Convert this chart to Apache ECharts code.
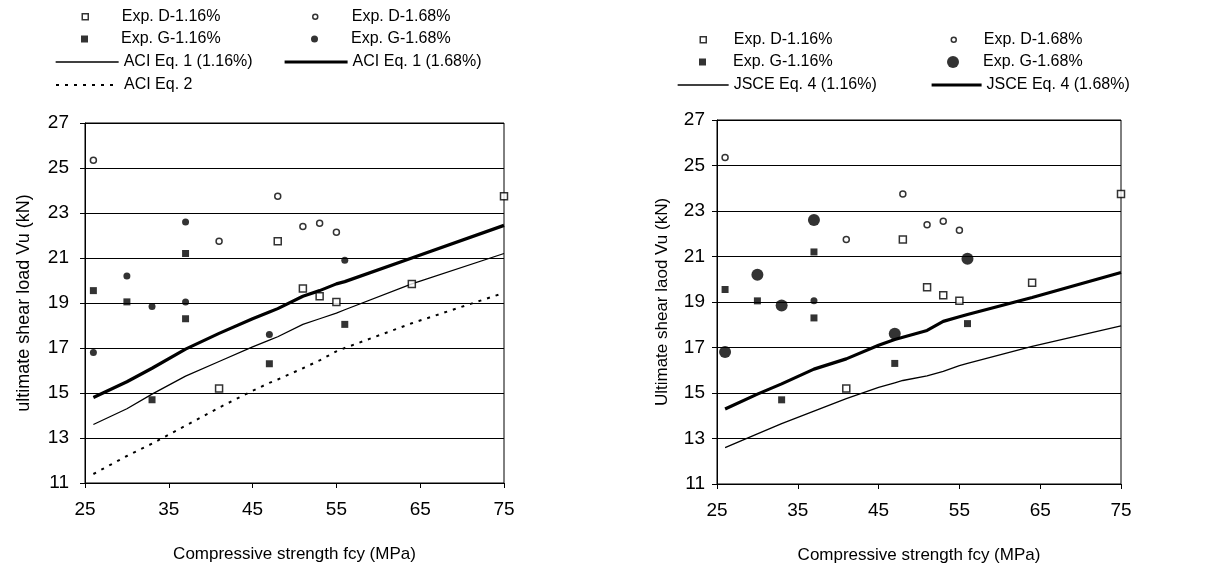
<!DOCTYPE html>
<html>
<head>
<meta charset="utf-8">
<script src="https://cdn.jsdelivr.net/npm/echarts@6/dist/echarts.min.js"></script>
<style>
  html, body { margin: 0; padding: 0; background: #fff; }
  #chart { width: 1228px; height: 571px; }
</style>
</head>
<body>
<div id="chart"></div>
<script>
// experimental points, fcy (MPa) / Vu (kN)
const expD116X = [41, 48, 51, 53, 55, 64, 75]
const expD116Y = [15.2, 21.75, 19.65, 19.3, 19.05, 19.85, 23.75]
const expD168X = [26, 41, 48, 51, 53, 55]
const expD168Y = [25.35, 21.75, 23.75, 22.4, 22.55, 22.15]
const expG116X = [26, 30, 33, 37, 37, 47, 56]
const expG116Y = [19.55, 19.05, 14.7, 21.2, 18.3, 16.3, 18.05]
const expG168X = [26, 30, 33, 37, 37, 47, 56]
const expG168Y = [16.8, 20.2, 18.85, 22.6, 19.05, 17.6, 20.9]

// predicted curves
const fcy = [26, 30, 33, 37, 41, 45, 47, 48, 51, 53, 55, 56, 64, 75]
const aci1_116 = [13.6, 14.3, 14.95, 15.75, 16.4, 17.05, 17.35, 17.5, 18.05, 18.3, 18.55, 18.7, 19.85, 21.2]
const aci1_168 = [14.8, 15.5, 16.1, 16.95, 17.65, 18.3, 18.6, 18.75, 19.3, 19.55, 19.85, 19.95, 21.0, 22.45]
const aci2 = [11.4, 12.2, 12.75, 13.55, 14.35, 15.1, 15.45, 15.6, 16.1, 16.45, 16.85, 17.0, 18.1, 19.45]
const jsce4_116 = [12.6, 13.2, 13.65, 14.2, 14.75, 15.25, 15.45, 15.55, 15.75, 15.95, 16.2, 16.3, 17.05, 17.95]
const jsce4_168 = [14.3, 14.95, 15.4, 16.05, 16.5, 17.1, 17.35, 17.45, 17.75, 18.15, 18.35, 18.45, 19.2, 20.3]

const xTicks = [25, 35, 45, 55, 65, 75]
const yTicks = [11, 13, 15, 17, 19, 21, 23, 25, 27]

const FONT = '"Liberation Sans", Arial, sans-serif'
const zip = (xs, ys) => xs.map((x, i) => [x, ys[i]])

const chart = echarts.init(document.getElementById('chart'))

const xAxisOf = (gridIndex) => ({
    type: 'value',
    gridIndex: gridIndex,
    min: xTicks[0],
    max: xTicks[xTicks.length - 1],
    interval: 10,
    name: 'Compressive strength fcy (MPa)',
    nameLocation: 'middle',
    nameGap: 63,
    nameTextStyle: { fontSize: 17, color: '#000', fontFamily: FONT },
    axisLine: { lineStyle: { color: '#000', width: 1 } },
    axisTick: { length: 5, lineStyle: { color: '#000' } },
    axisLabel: { fontSize: 19, color: '#000', fontFamily: FONT, margin: 17 },
    splitLine: { show: false }
})
const yAxisOf = (gridIndex, name, gap, size, labelGap) => ({
    type: 'value',
    gridIndex: gridIndex,
    min: yTicks[0],
    max: yTicks[yTicks.length - 1],
    interval: 2,
    name: name,
    nameLocation: 'middle',
    nameGap: gap,
    nameTextStyle: { fontSize: size, color: '#000', fontFamily: FONT },
    axisLine: { lineStyle: { color: '#000', width: 1 } },
    axisTick: { length: 5, lineStyle: { color: '#000' } },
    axisLabel: { fontSize: 19, color: '#000', fontFamily: FONT, margin: labelGap },
    splitLine: { show: true, lineStyle: { color: '#000', width: 1 } }
})

const openStyle = { color: '#fff', borderColor: '#000', borderWidth: 1.5 }
const fillStyle = { color: '#000' }

const scatterOf = (idx, name, xs, ys, symbol, size, style) => ({
    type: 'scatter', name: name, xAxisIndex: idx, yAxisIndex: idx,
    symbol: symbol, symbolSize: size, itemStyle: style,
    data: zip(xs, ys), z: 5
})
const lineOf = (idx, name, ys, width, type) => ({
    type: 'line', name: name, xAxisIndex: idx, yAxisIndex: idx,
    symbol: 'none', showSymbol: false,
    itemStyle: { color: '#000' },
    lineStyle: { color: '#000', width: width, type: type || 'solid' },
    data: zip(fcy, ys), z: 3
})

// legend marker: small shape centred in a w x h box (the lone moves fix the box size)
const markerIcon = (shape, w, h, s) => {
    const cx = w / 2, cy = h / 2, r = s / 2
    const box = 'M0 0 M' + w + ' ' + h + ' '
    if (shape === 'rect') {
        return 'path://' + box + 'M' + (cx - r) + ' ' + (cy - r) + ' L' + (cx + r) + ' ' + (cy - r) +
            ' L' + (cx + r) + ' ' + (cy + r) + ' L' + (cx - r) + ' ' + (cy + r) + ' Z'
    }
    return 'path://' + box + 'M' + (cx - r) + ' ' + cy + ' A' + r + ' ' + r + ' 0 1 1 ' + (cx + r) + ' ' + cy +
        ' A' + r + ' ' + r + ' 0 1 1 ' + (cx - r) + ' ' + cy + ' Z'
}

// one legend component per entry so every entry can be placed freely
const legendItem = (name, left, cy, w, extra) => ({
    left: left, top: cy - 8, padding: 0,
    itemWidth: w, itemHeight: 16, itemGap: 0,
    selectedMode: false,
    textStyle: { fontSize: 16, color: '#000', fontFamily: FONT },
    data: [Object.assign({ name: name }, extra)]
})
const markerItem = (shape, w, s, style) => ({ icon: markerIcon(shape, w, 16, s), itemStyle: style })
const lineItem = (width, type) => ({
    itemStyle: { opacity: 0 },
    lineStyle: { color: '#000', width: width, type: type || 'solid' }
})

const option = {
    animation: false,
    backgroundColor: '#fff',
    grid: [
        { left: 85, right: 724, top: 123, bottom: 88, show: true, borderColor: '#000', borderWidth: 1 },
        { left: 717, right: 107, top: 120, bottom: 87, show: true, borderColor: '#000', borderWidth: 1 }
    ],
    xAxis: [xAxisOf(0), xAxisOf(1)],
    yAxis: [
        yAxisOf(0, 'ultimate shear load Vu (kN)', 52, 18, 16),
        yAxisOf(1, 'Ultimate shear laod Vu (kN)', 46, 17, 12)
    ],
    legend: [
        legendItem('Exp. D-1.16%', 53, 16, 63, markerItem('rect', 63, 6, openStyle)),
        legendItem('Exp. G-1.16%', 53, 39, 63, markerItem('rect', 63, 7, fillStyle)),
        legendItem('ACI Eq. 1 (1.16%)', 55, 62, 63, lineItem(1.3)),
        legendItem('ACI Eq. 2', 55, 85, 63, lineItem(2, [3, 6])),
        legendItem('Exp. D-1.68%', 283, 16, 63, markerItem('circle', 63, 5, openStyle)),
        legendItem('Exp. G-1.68%', 283, 39, 63, markerItem('circle', 63, 7, fillStyle)),
        legendItem('ACI Eq. 1 (1.68%)', 283, 62, 63, lineItem(3.2)),
        legendItem('Exp. D-1.16%', 677, 39, 51, markerItem('rect', 51, 6, openStyle)),
        legendItem('Exp. G-1.16%', 677, 62, 51, markerItem('rect', 51, 7, fillStyle)),
        legendItem('JSCE Eq. 4 (1.16%)', 677, 85, 51, lineItem(1.3)),
        legendItem('Exp. D-1.68%', 928, 39, 50, markerItem('circle', 50, 5, openStyle)),
        legendItem('Exp. G-1.68%', 928, 62, 50, markerItem('circle', 50, 12, fillStyle)),
        legendItem('JSCE Eq. 4 (1.68%)', 930, 85, 50, lineItem(3.2))
    ],
    series: [
        // left: ACI
        lineOf(0, 'ACI Eq. 1 (1.16%)', aci1_116, 1.3),
        lineOf(0, 'ACI Eq. 1 (1.68%)', aci1_168, 3.2),
        lineOf(0, 'ACI Eq. 2', aci2, 2, [3, 6]),
        scatterOf(0, 'Exp. D-1.16%', expD116X, expD116Y, 'rect', 7, openStyle),
        scatterOf(0, 'Exp. D-1.68%', expD168X, expD168Y, 'circle', 6, openStyle),
        scatterOf(0, 'Exp. G-1.16%', expG116X, expG116Y, 'rect', 7, fillStyle),
        scatterOf(0, 'Exp. G-1.68%', expG168X, expG168Y, 'circle', 7, fillStyle),
        // right: JSCE
        lineOf(1, 'JSCE Eq. 4 (1.16%)', jsce4_116, 1.3),
        lineOf(1, 'JSCE Eq. 4 (1.68%)', jsce4_168, 3.2),
        scatterOf(1, 'Exp. D-1.16%', expD116X, expD116Y, 'rect', 7, openStyle),
        scatterOf(1, 'Exp. D-1.68%', expD168X, expD168Y, 'circle', 6, openStyle),
        scatterOf(1, 'Exp. G-1.16%', expG116X, expG116Y, 'rect', 7, fillStyle),
        // the second point at fcy 37 is drawn small in the original
        scatterOf(1, 'Exp. G-1.68%', expG168X, expG168Y, 'circle',
            (val, p) => (p.dataIndex === 4 ? 7 : 12), fillStyle)
    ]
}

chart.setOption(option)
</script>
</body>
</html>
